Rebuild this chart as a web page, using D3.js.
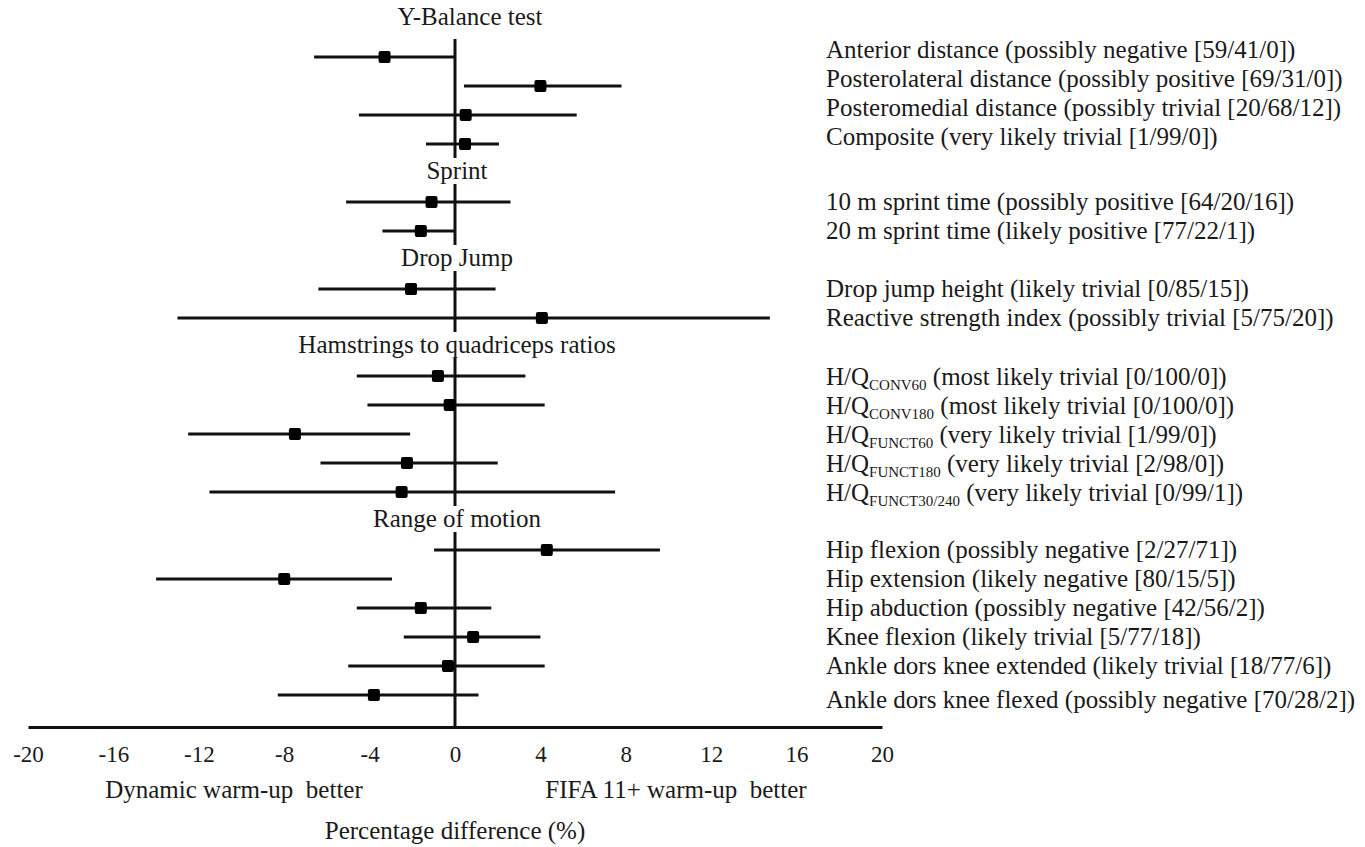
<!DOCTYPE html>
<html>
<head>
<meta charset="utf-8">
<script src="https://cdn.jsdelivr.net/npm/d3@7/dist/d3.min.js"></script>
<style>
  html, body { margin: 0; padding: 0; background: #fff; }
  svg { display: block; }
  text { font-family: "Liberation Serif", "Times New Roman", serif; fill: #1a1a1a; }
</style>
</head>
<body>
<script>
// ---------------- data ----------------
const groupTitles = ["Y-Balance test", "Sprint", "Drop Jump", "Hamstrings to quadriceps ratios", "Range of motion"];
const groupOf = [0,0,0,0, 1,1, 2,2, 3,3,3,3,3, 4,4,4,4,4,4];
const labelMain = [
  "Anterior distance", "Posterolateral distance", "Posteromedial distance", "Composite",
  "10 m sprint time", "20 m sprint time",
  "Drop jump height", "Reactive strength index",
  "H/Q", "H/Q", "H/Q", "H/Q", "H/Q",
  "Hip flexion", "Hip extension", "Hip abduction", "Knee flexion", "Ankle dors knee extended", "Ankle dors knee flexed"
];
const labelSub = ["", "", "", "", "", "", "", "", "CONV60", "CONV180", "FUNCT60", "FUNCT180", "FUNCT30/240", "", "", "", "", "", ""];
const labelInfer = [
  "(possibly negative [59/41/0])", "(possibly positive [69/31/0])", "(possibly trivial [20/68/12])", "(very likely trivial [1/99/0])",
  "(possibly positive [64/20/16])", "(likely positive [77/22/1])",
  "(likely trivial [0/85/15])", "(possibly trivial [5/75/20])",
  "(most likely trivial [0/100/0])", "(most likely trivial [0/100/0])", "(very likely trivial [1/99/0])", "(very likely trivial [2/98/0])", "(very likely trivial [0/99/1])",
  "(possibly negative [2/27/71])", "(likely negative [80/15/5])", "(possibly negative [42/56/2])", "(likely trivial [5/77/18])", "(likely trivial [18/77/6])", "(possibly negative [70/28/2])"
];
const estimate = [-3.3, 4.0, 0.5, 0.47, -1.1, -1.6, -2.06, 4.07, -0.8, -0.25, -7.5, -2.25, -2.5, 4.3, -8.0, -1.6, 0.85, -0.33, -3.8];
const lower    = [-6.6, 0.42, -4.5, -1.36, -5.1, -3.4, -6.4, -13.0, -4.6, -4.1, -12.5, -6.3, -11.5, -0.98, -14.0, -4.6, -2.4, -5.0, -8.3];
const upper    = [0.0, 7.8, 5.7, 2.06, 2.6, 0.0, 1.9, 14.75, 3.3, 4.2, -2.1, 2.0, 7.5, 9.6, -2.95, 1.7, 4.0, 4.2, 1.1];
const xTicks = [-20, -16, -12, -8, -4, 0, 4, 8, 12, 16, 20];
const xDomain = [-20, 20];
const leftNote = "Dynamic warm-up\u00a0\u00a0better";
const rightNote = "FIFA 11+ warm-up\u00a0\u00a0better";
const axisTitle = "Percentage difference (%)";

// ---------------- layout ----------------
const W = 1365, H = 847;
const svg = d3.select("body").append("svg").attr("width", W).attr("height", H);

const x = d3.scaleLinear().domain(xDomain).range([28, 882]);

// build slot sequence: group header followed by its rows
const slots = [];
groupTitles.forEach((g, gi) => {
  slots.push("h" + gi);
  groupOf.forEach((go, i) => { if (go === gi) slots.push("r" + i); });
});
const y = d3.scalePoint().domain(slots).range([28, 695]);
const axisY = 727;
const labelShift = [-7, 0, 0, 1, 0];   // per-group vertical nudge of right-hand labels

// group headers
svg.selectAll("text.header").data(groupTitles).join("text")
  .attr("class", "header")
  .attr("x", (d, i) => x(0) + (i === 0 ? 15 : 2))
  .attr("y", (d, i) => y("h" + i) + (i === 0 ? -3 : 6))
  .attr("text-anchor", "middle")
  .style("font-size", "25px")
  .text(d => d);

// zero line segments per group
groupTitles.forEach((g, gi) => {
  const idx = groupOf.map((go, i) => go === gi ? i : -1).filter(i => i >= 0);
  const top = y("r" + idx[0]) - 18;
  const bot = gi === groupTitles.length - 1 ? axisY : y("r" + idx[idx.length - 1]) + 14;
  svg.append("line")
    .attr("x1", x(0)).attr("x2", x(0))
    .attr("y1", top).attr("y2", bot)
    .attr("stroke", "#111").attr("stroke-width", 3);
});

// error bars
const rows = estimate.map((e, i) => ({ i, e, lo: lower[i], hi: upper[i] }));
svg.selectAll("line.ci").data(rows).join("line")
  .attr("class", "ci")
  .attr("x1", d => x(d.lo)).attr("x2", d => x(d.hi))
  .attr("y1", d => y("r" + d.i)).attr("y2", d => y("r" + d.i))
  .attr("stroke", "#111").attr("stroke-width", 3);

// point estimates
const ms = 12;
svg.selectAll("rect.pt").data(rows).join("rect")
  .attr("class", "pt")
  .attr("x", d => x(d.e) - ms / 2).attr("y", d => y("r" + d.i) - ms / 2)
  .attr("width", ms).attr("height", ms).attr("rx", 2)
  .attr("fill", "#000");

// right-hand labels
const lab = svg.selectAll("text.lab").data(rows).join("text")
  .attr("class", "lab")
  .attr("x", 826)
  .attr("y", d => y("r" + d.i) + 8 + labelShift[groupOf[d.i]] + (d.i === rows.length - 1 ? 5 : 0))
  .style("font-size", "25px");
lab.append("tspan").text(d => labelMain[d.i]);
lab.filter(d => labelSub[d.i]).append("tspan")
  .attr("dy", 5).style("font-size", "15px").text(d => labelSub[d.i]);
lab.append("tspan")
  .attr("dy", d => labelSub[d.i] ? -5 : 0)
  .text(d => " " + labelInfer[d.i]);

// x axis
const axis = svg.append("g").attr("transform", `translate(0,${axisY})`)
  .call(d3.axisBottom(x).tickValues(xTicks).tickSize(0).tickPadding(19).tickFormat(d => String(d)));
axis.select(".domain").attr("stroke", "#111").attr("stroke-width", 3);
axis.selectAll(".tick text")
  .style("font-family", "'Liberation Serif', 'Times New Roman', serif")
  .style("font-size", "23px").attr("fill", "#1a1a1a");

svg.append("text").attr("x", 234).attr("y", 798).attr("text-anchor", "middle")
  .style("font-size", "25px").text(leftNote);
svg.append("text").attr("x", 676).attr("y", 798).attr("text-anchor", "middle")
  .style("font-size", "25px").text(rightNote);
svg.append("text").attr("x", x(0)).attr("y", 839).attr("text-anchor", "middle")
  .style("font-size", "25px").text(axisTitle);
</script>
</body>
</html>
